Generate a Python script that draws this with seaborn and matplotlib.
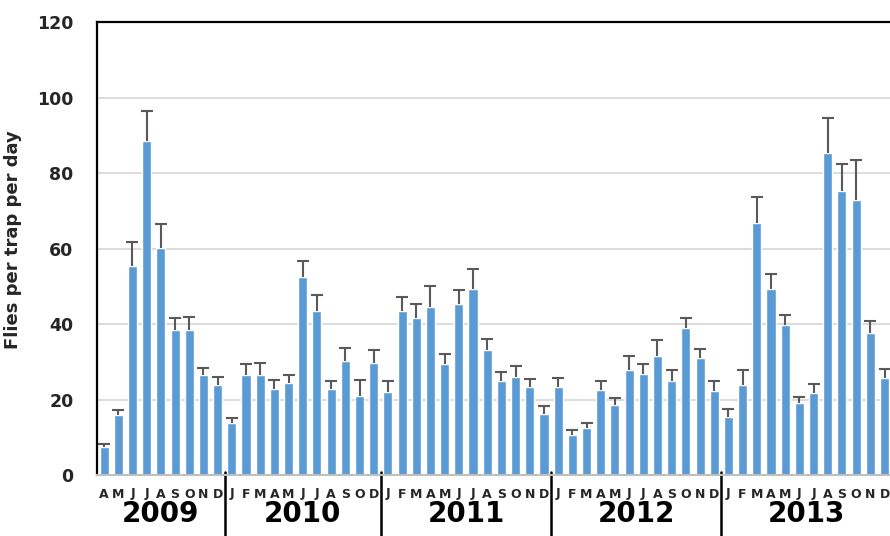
# Capturas mensuales de moscas por trampa y día (2009-2013)
# Barras con error estándar superior, agrupadas por año

import seaborn as sns
import matplotlib.pyplot as plt
import matplotlib.transforms as mtransforms
import numpy as np
import pandas as pd

years = ["2009", "2010", "2011", "2012", "2013"]
months_2009 = ["A", "M", "J", "J", "A", "S", "O", "N", "D"]
months_2010 = ["J", "F", "M", "A", "M", "J", "J", "A", "S", "O", "D"]
months_full = ["J", "F", "M", "A", "M", "J", "J", "A", "S", "O", "N", "D"]
months_by_year = [months_2009, months_2010, months_full, months_full, months_full]

flies_2009 = [7.5, 16.0, 55.3, 88.5, 60.3, 38.4, 38.4, 26.4, 23.9]
flies_2010 = [13.7, 26.4, 26.6, 22.7, 24.5, 52.4, 43.5, 22.9, 30.2, 20.9, 29.8]
flies_2011 = [22.0, 43.5, 41.5, 44.5, 29.5, 45.2, 49.4, 33.1, 24.8, 26.1, 23.3, 16.2]
flies_2012 = [23.4, 10.5, 12.4, 22.5, 18.5, 27.9, 26.7, 31.6, 25.0, 39.0, 30.9, 22.3]
flies_2013 = [15.5, 23.9, 66.8, 49.3, 39.7, 19.2, 21.8, 85.4, 75.4, 72.8, 37.7, 25.6]

se_2009 = [0.8, 1.3, 6.4, 7.9, 6.2, 3.1, 3.4, 2.0, 2.1]
se_2010 = [1.5, 3.0, 3.0, 2.5, 2.1, 4.4, 4.2, 1.9, 3.4, 4.3, 3.3]
se_2011 = [3.0, 3.8, 3.9, 5.5, 2.5, 3.9, 5.1, 3.0, 2.5, 2.7, 2.2, 2.0]
se_2012 = [2.2, 1.3, 1.3, 2.5, 2.0, 3.7, 2.8, 4.3, 2.9, 2.5, 2.5, 2.7]
se_2013 = [1.9, 3.9, 6.9, 4.0, 2.7, 1.4, 2.4, 9.1, 7.0, 10.7, 3.1, 2.5]

flies_by_year = [flies_2009, flies_2010, flies_2011, flies_2012, flies_2013]
se_by_year = [se_2009, se_2010, se_2011, se_2012, se_2013]

# Tabla larga para seaborn
rows = []
for year, months, vals, ses in zip(years, months_by_year, flies_by_year, se_by_year):
    for k, (m, v, s) in enumerate(zip(months, vals, ses)):
        rows.append({"slot": f"{year}-{k:02d}", "year": year, "mes": m,
                     "flies": v, "se": s})
df = pd.DataFrame(rows)

sns.set_style("white")
plt.rcParams["font.family"] = ["DejaVu Sans"]

fig = plt.figure(figsize=(8.9, 5.36), dpi=100)
W, H = 890, 536
ax = fig.add_axes([97 / W, 1 - 475 / H, (891.6 - 97) / W, (475 - 22.3) / H])

sns.barplot(data=df, x="slot", y="flies", color="#5B9BD5", saturation=1,
            width=0.64, errorbar=None, ax=ax, zorder=2)

# Solo la parte superior del error
pos = np.arange(len(df))
_, caps, _ = ax.errorbar(pos, df["flies"], yerr=[np.zeros(len(df)), df["se"]],
                         fmt="none", ecolor="#595959", elinewidth=1.5,
                         capsize=4.2, capthick=1.5, zorder=3)
caps[0].set_visible(False)

ax.set_ylim(0, 120)
ax.set_yticks(range(0, 121, 20))
ax.set_xlim(-0.5, len(df) - 0.5)
ax.yaxis.grid(True, color="#d9d9d9", linewidth=1.3, zorder=0)
ax.set_axisbelow(True)

ax.set_xticks(pos)
ax.set_xticklabels(df["mes"], fontsize=9, fontweight="bold", color="#262626")
ax.tick_params(axis="x", length=0, pad=9)
ax.tick_params(axis="y", length=0, pad=17, labelsize=12.5)
for lab in ax.get_yticklabels():
    lab.set_fontweight("bold")

ax.set_xlabel("")
ax.set_ylabel("Flies per trap per day", fontsize=13, fontweight="bold")
ax.yaxis.set_label_coords(-0.094, 0.52)

for side in ["left", "top"]:
    ax.spines[side].set_color("black")
    ax.spines[side].set_linewidth(1.6)
ax.spines["bottom"].set_color("#bfbfbf")
ax.spines["bottom"].set_linewidth(1.5)
ax.spines["right"].set_visible(False)

# Etiquetas de año y separadores
trans = mtransforms.blended_transform_factory(ax.transData, ax.transAxes)
start = 0
for year, months in zip(years, months_by_year):
    end = start + len(months)
    ax.text((start + end - 1) / 2, -0.086, year, transform=trans, ha="center",
            va="center", fontsize=20, fontweight="bold", color="black")
    if end < len(df):
        ax.plot([end - 0.5, end - 0.5], [0.007, -0.14], transform=trans,
                color="black", linewidth=1.8, clip_on=False)
    start = end

fig.savefig("out.png", dpi=100)
